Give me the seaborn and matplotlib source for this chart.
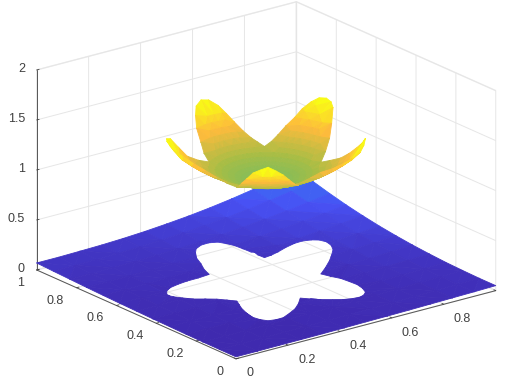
import numpy as np
import matplotlib
matplotlib.use("Agg")
import matplotlib.pyplot as plt
import matplotlib.tri as mtri
from matplotlib.path import Path
import seaborn as sns

# parula-like colours, low to high
PARULA = ["#3e26a8", "#4851f4", "#2b8ff0", "#0fa5da", "#25b5a8", "#5ebd72",
          "#a8bd45", "#fdbb3c", "#f9fb15"]

# lower surface, rows are y = 0..1, columns are x = 0..1
grid_x = [i / 12 for i in range(13)]
grid_y = [j / 12 for j in range(13)]
lower_z = [
    [.020, .020, .021, .022, .023, .025, .028, .030, .033, .037, .041, .045, .050],
    [.020, .020, .021, .022, .023, .025, .028, .030, .033, .037, .041, .045, .050],
    [.021, .021, .022, .023, .024, .026, .029, .031, .035, .039, .043, .048, .054],
    [.023, .023, .024, .025, .026, .029, .032, .035, .039, .043, .049, .054, .060],
    [.026, .026, .027, .028, .030, .033, .037, .040, .044, .050, .056, .063, .071],
    [.029, .029, .030, .032, .034, .037, .042, .046, .051, .059, .066, .075, .085],
    [.033, .033, .034, .036, .039, .043, .048, .054, .061, .070, .080, .091, .104],
    [.037, .037, .038, .041, .044, .049, .056, .063, .072, .083, .096, .110, .127],
    [.042, .042, .044, .047, .050, .056, .065, .074, .085, .100, .116, .134, .156],
    [.048, .048, .050, .054, .058, .066, .076, .087, .102, .120, .140, .163, .190],
    [.055, .055, .058, .062, .067, .076, .089, .103, .121, .143, .169, .198, .231],
    [.062, .062, .065, .070, .077, .088, .103, .120, .142, .169, .200, .236, .277],
    [.070, .070, .074, .079, .088, .101, .119, .140, .167, .199, .237, .280, .330],
]

# star shaped boundary between the two surfaces
rim_x = [.162, .180, .206, .244, .282, .325, .369, .382, .402, .418, .442, .462,
         .491, .520, .546, .560, .571, .577, .581, .584, .587, .615, .646, .685,
         .725, .754, .781, .800, .810, .806, .791, .762, .730, .686, .644, .655,
         .669, .674, .677, .671, .658, .640, .620, .594, .567, .540, .511, .490,
         .470, .436, .401, .362, .325, .297, .271, .258, .252, .259, .272, .285,
         .299, .280, .260, .232, .203, .183, .166, .162]
rim_y = [.558, .582, .598, .607, .612, .612, .616, .658, .700, .742, .779, .802,
         .815, .815, .802, .778, .752, .717, .682, .652, .622, .624, .631, .643,
         .651, .650, .640, .625, .602, .573, .544, .513, .482, .445, .413, .380,
         .346, .310, .274, .240, .208, .192, .184, .188, .199, .218, .242, .265,
         .290, .255, .226, .204, .186, .185, .192, .215, .243, .284, .326, .355,
         .385, .410, .435, .458, .479, .505, .530, .544]
rim_low = [.037, .038, .040, .041, .042, .043, .045, .050, .056, .062, .068, .073,
           .078, .081, .082, .079, .075, .070, .066, .062, .059, .063, .068, .075,
           .082, .086, .088, .087, .083, .077, .070, .063, .056, .049, .043, .041,
           .040, .038, .037, .035, .034, .033, .032, .031, .030, .030, .029, .029,
           .029, .028, .026, .026, .025, .025, .025, .025, .026, .027, .029, .030,
           .032, .032, .033, .033, .034, .035, .036, .036]
rim_up = [1.57, 1.56, 1.53, 1.41, 1.29, 1.22, 1.17, 1.21, 1.27, 1.36, 1.44, 1.50,
          1.53, 1.51, 1.45, 1.38, 1.31, 1.25, 1.21, 1.19, 1.17, 1.20, 1.24, 1.29,
          1.34, 1.41, 1.47, 1.51, 1.52, 1.51, 1.49, 1.38, 1.28, 1.21, 1.16, 1.20,
          1.245, 1.32, 1.41, 1.49, 1.57, 1.53, 1.48, 1.43, 1.39, 1.34, 1.30, 1.24,
          1.18, 1.21, 1.27, 1.36, 1.45, 1.51, 1.56, 1.52, 1.47, 1.37, 1.28, 1.22,
          1.17, 1.20, 1.25, 1.32, 1.39, 1.45, 1.50, 1.54]

# bowl height against distance from the star centre
bowl_r = [.02, .04, .06, .08, .10, .12, .14, .16, .18, .20, .22, .24, .26, .28,
          .30, .32, .34]
bowl_z = [1.032, 1.037, 1.045, 1.057, 1.073, 1.091, 1.114, 1.139, 1.168, 1.20,
          1.237, 1.276, 1.319, 1.365, 1.414, 1.467, 1.523]
centre_x, centre_y, centre_z = .48, .47, 1.03

x_ticks = [0, .2, .4, .6, .8, 1]
y_ticks = [0, .2, .4, .6, .8, 1]
z_ticks = [0, .5, 1, 1.5, 2]
x_labels = ["0", "0.2", "0.4", "0.6", "0.8", "1"]
y_labels = ["0", "0.2", "0.4", "0.6", "0.8", "1"]
z_labels = ["0", "0.5", "1", "1.5", "2"]

sns.set_theme(style="white", rc={"grid.color": "#e6e6e6", "grid.linewidth": 0.7})
plt.rcParams["font.family"] = ["Liberation Sans", "DejaVu Sans"]
cmap = sns.blend_palette(PARULA, as_cmap=True)

star = Path(np.column_stack([rim_x, rim_y]))


def star_surface(ax, px, py, pz, keep_inside, zorder):
    tri = mtri.Triangulation(px, py)
    cx = np.mean(np.asarray(px)[tri.triangles], axis=1)
    cy = np.mean(np.asarray(py)[tri.triangles], axis=1)
    inside = star.contains_points(np.column_stack([cx, cy]))
    tri.set_mask(~inside if keep_inside else inside)
    surf = ax.plot_trisurf(tri, pz, cmap=cmap, vmin=0, vmax=1.5, shade=False,
                           linewidth=0.6, antialiased=True, zorder=zorder)
    surf.set_edgecolor("face")
    surf.set_clip_on(False)
    return surf


fig = plt.figure(figsize=(5.05, 3.85), dpi=100)
ax = fig.add_axes([8.5 / 505, 7 / 385, 1, 1], projection="3d", proj_type="ortho",
                  computed_zorder=False)
ax.view_init(elev=20, azim=-127.5)
ax.set_box_aspect((1, 1, 0.65), zoom=1.285)

# lower sheet: grid nodes outside the star plus the rim
gx, gy = np.meshgrid(grid_x, grid_y)
gz = np.array(lower_z)
outside = ~star.contains_points(np.column_stack([gx.ravel(), gy.ravel()]))
low_x = np.r_[gx.ravel()[outside], rim_x]
low_y = np.r_[gy.ravel()[outside], rim_y]
low_z = np.r_[gz.ravel()[outside], rim_low]
star_surface(ax, low_x, low_y, low_z, False, 1)

# upper bowl: rings of constant height plus the rim, rings stop short of the rim
up_x, up_y, up_z = [centre_x], [centre_y], [centre_z]
for r, z in zip(bowl_r, bowl_z):
    for a in np.linspace(0, 2 * np.pi, 72, endpoint=False):
        rx, ry = centre_x + r * np.cos(a), centre_y + r * np.sin(a)
        gap = np.hypot(np.array(rim_x) - rx, np.array(rim_y) - ry).min()
        if star.contains_point((rx, ry)) and gap > 0.03:
            up_x.append(rx)
            up_y.append(ry)
            up_z.append(z)
up_x = np.r_[up_x, rim_x]
up_y = np.r_[up_y, rim_y]
up_z = np.r_[up_z, rim_up]
star_surface(ax, up_x, up_y, up_z, True, 2)

ax.set_xlim(0, 1, view_margin=0)
ax.set_ylim(0, 1, view_margin=0)
ax.set_zlim(0, 2, view_margin=0)
ax.set_xticks(x_ticks, x_labels)
ax.set_yticks(y_ticks, y_labels)
ax.set_zticks(z_ticks, z_labels)
ax.tick_params(labelsize=9, colors="#404040")
ax.tick_params(axis="x", pad=-0.7)
ax.tick_params(axis="y", pad=-1)
ax.tick_params(axis="z", pad=-4.3)
for t in ax.get_xticklabels():
    t.set_ha("left")
    t.set_va("center")
for t in ax.get_yticklabels():
    t.set_ha("right")
    t.set_va("center")
for t in ax.get_zticklabels():
    t.set_ha("right")
    t.set_va("center")
ax.grid(True)
for axis in (ax.xaxis, ax.yaxis, ax.zaxis):
    axis.pane.set_facecolor("white")
    axis.pane.set_edgecolor("#dcdcdc")
    axis.line.set_color("#555555")
    axis.line.set_linewidth(0.7)
    axis._axinfo["tick"]["inward_factor"] = 0.0
    axis._axinfo["tick"]["outward_factor"] = 0.12
    axis._axinfo["tick"]["linewidth"] = {True: 0.6, False: 0.6}

fig.savefig("out.png", dpi=100)
